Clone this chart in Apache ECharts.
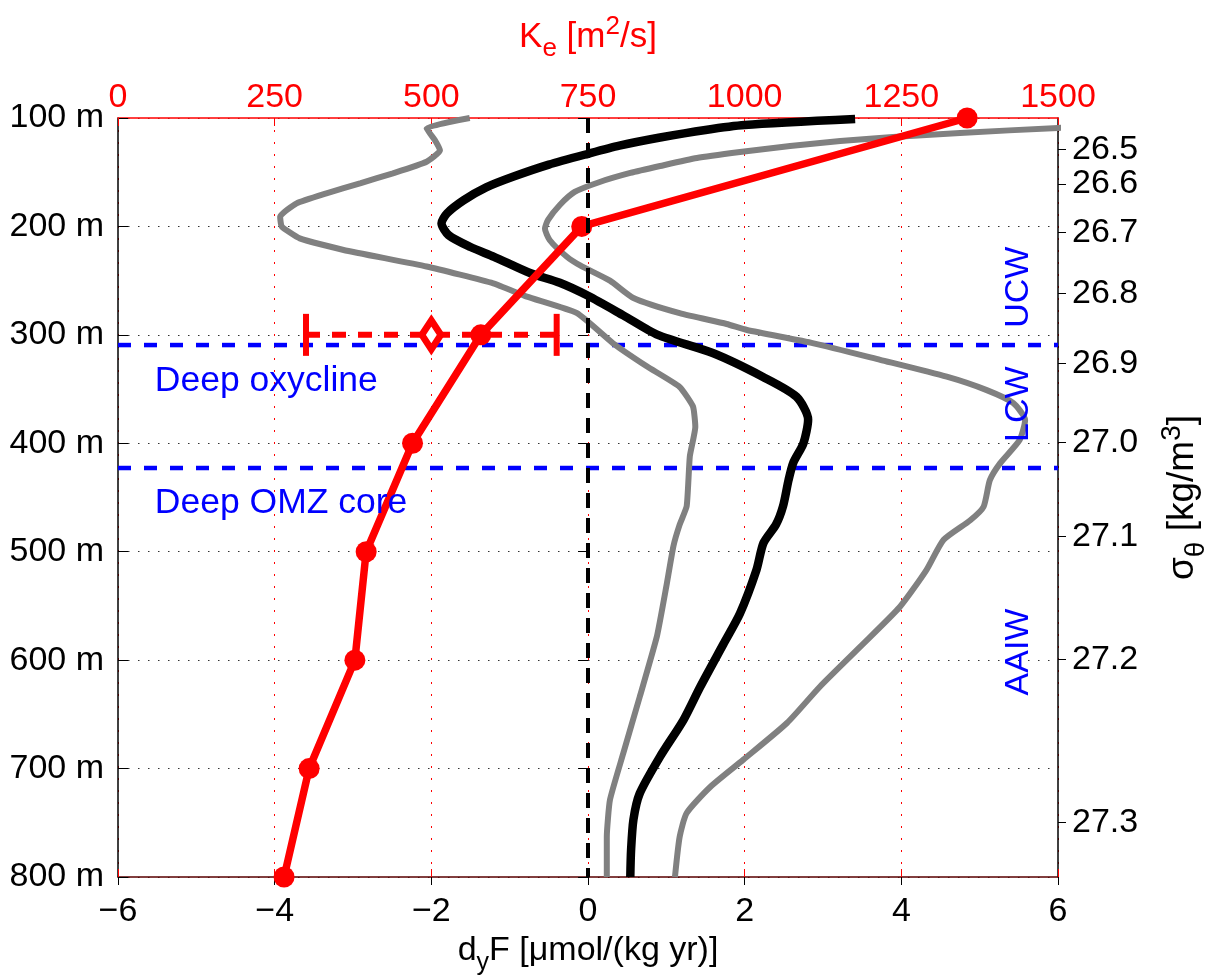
<!DOCTYPE html>
<html>
<head>
<meta charset="utf-8">
<script src="https://cdn.jsdelivr.net/npm/echarts@6/dist/echarts.min.js"></script>
<style>html,body{margin:0;padding:0;background:#fff;overflow:hidden}#c{width:1207px;height:978px}</style>
</head>
<body>
<div id="c"></div>
<script>
// ---------- data ----------
const depthTicks = [100, 200, 300, 400, 500, 600, 700, 800];
const fluxTicks = [-6, -4, -2, 0, 2, 4, 6];
const keTicks = [0, 250, 500, 750, 1000, 1250, 1500];

// K_e profile (top axis) at depths
const keDepths = [100, 200, 300, 400, 500, 600, 700, 800];
const keValues = [1355, 740, 579, 470, 396, 378, 305, 265];

// K_e error bar at 300 m
const keErrDepth = 300;
const keErrLow = 300;
const keErrMid = 500;
const keErrHigh = 700;

// d_yF mean profile [flux, depth]
const meanFlux = [[3.41,101],[2.0,106.5],[1.5,111],[0.92,118],[0.4,125.5],[0,133],[-0.5,143],[-0.95,154],[-1.3,164],[-1.59,176],[-1.8,188],[-1.87,197],[-1.78,208],[-1.5,219],[-1.2,228],[-0.74,243],[-0.36,252],[0,264],[0.45,282],[0.89,300],[1.6,317],[2.24,339],[2.66,357],[2.81,378],[2.75,400],[2.62,418],[2.56,434],[2.49,458],[2.4,475],[2.24,492],[2.15,517],[1.94,557],[1.73,585],[1.43,625],[1.22,655],[0.92,689],[0.66,723],[0.58,747],[0.55,775],[0.54,800]];

// lower bound profile
const lowFlux = [[-1.51,100],[-2.06,109.5],[-1.95,121],[-1.89,130],[-2.06,140.3],[-2.49,151],[-2.9,160],[-3.34,169.5],[-3.72,178.7],[-3.93,191],[-3.91,200],[-3.68,211],[-3.12,221.7],[-2.06,237],[-1.21,252.5],[-0.78,264.8],[-0.14,280],[0.32,307.8],[0.75,329],[1.17,348],[1.34,366],[1.37,385],[1.3,412],[1.26,458],[1.17,475],[1.09,495],[1.0,532],[0.88,578],[0.66,634],[0.45,686],[0.28,729],[0.24,763],[0.24,800]];

// upper bound profile
const highFlux = [[6.5,108.5],[6.0,109.2],[4.75,113.8],[3.89,117.5],[3.22,121.2],[2.58,125.8],[1.94,131.4],[1.39,136.9],[0.92,144.3],[0.54,150.7],[0.15,159],[-0.17,168.2],[-0.36,180.2],[-0.51,194],[-0.55,202],[-0.49,212.5],[-0.27,228],[-0.1,236],[0.28,250],[0.58,266],[1.17,280],[1.77,290],[2.03,295.5],[2.88,307.8],[3.73,323],[4.58,338.6],[5.09,351],[5.43,363],[5.58,378.5],[5.51,397],[5.26,418.5],[5.13,434],[5.05,458.5],[4.88,471],[4.54,489],[4.32,517],[3.98,551],[3.47,588],[2.96,624.5],[2.54,658],[1.98,692],[1.56,717],[1.26,741],[1.17,763],[1.11,800]];

// sigma-theta ticks (right axis) and their depths
const sigmaLabels = ['26.5','26.6','26.7','26.8','26.9','27.0','27.1','27.2','27.3'];
const sigmaDepths = [128.9, 160.9, 205.8, 261.7, 326.2, 399.1, 486.1, 599.2, 749.9];

// layer boundaries (blue dashed)
const layerDepths = [309.4, 422.8];
const layerNames = ['Deep oxycline', 'Deep OMZ core'];
const layerLabelDepths = [342.6, 455];
const waterMasses = ['UCW', 'LCW', 'AAIW'];
const waterMassDepths = [256, 364, 592.5];

// ---------- chart ----------
const FONT = "'Liberation Sans', Arial, Helvetica, sans-serif";
const FS = 34;
const chart = echarts.init(document.getElementById('c'), null, {renderer: 'canvas'});

const minus = v => v < 0 ? '\u2212' + Math.abs(v) : String(v);

const series = [];
layerDepths.forEach(d => {
  series.push({type: 'line', xAxisIndex: 0, yAxisIndex: 0, data: [[-6, d], [6, d]],
    showSymbol: false, symbol: 'none', silent: true,
    lineStyle: {color: '#0000ff', width: 4.5, type: [13, 13]}, z: 2});
});
series.push({type: 'line', xAxisIndex: 0, yAxisIndex: 0, data: lowFlux, symbol: 'none', smooth: 0.15,
  lineStyle: {color: '#808080', width: 6}, z: 3});
series.push({type: 'line', xAxisIndex: 0, yAxisIndex: 0, data: highFlux, symbol: 'none', smooth: 0.2,
  lineStyle: {color: '#808080', width: 6}, z: 3});
series.push({type: 'line', xAxisIndex: 0, yAxisIndex: 0, data: meanFlux, symbol: 'none', smooth: 0.25,
  lineStyle: {color: '#000000', width: 8.5}, z: 4});
series.push({type: 'line', xAxisIndex: 1, yAxisIndex: 0,
  data: keDepths.map((d, i) => [keValues[i], d]),
  symbol: 'circle', symbolSize: 21, showSymbol: true,
  itemStyle: {color: '#ff0000', opacity: 1}, lineStyle: {color: '#ff0000', width: 7.5}, z: 5});
// error bar
series.push({type: 'line', xAxisIndex: 1, yAxisIndex: 0,
  data: [[keErrLow, keErrDepth], [keErrHigh, keErrDepth]], symbol: 'none',
  lineStyle: {color: '#ff0000', width: 6, type: [14, 12]}, z: 5});
series.push({type: 'scatter', xAxisIndex: 1, yAxisIndex: 0,
  data: [[keErrLow, keErrDepth], [keErrHigh, keErrDepth]],
  symbol: 'rect', symbolSize: [6, 42], itemStyle: {color: '#ff0000', opacity: 1}, z: 6});
series.push({type: 'scatter', xAxisIndex: 1, yAxisIndex: 0,
  data: [[keErrMid, keErrDepth]],
  symbol: 'diamond', symbolSize: [19, 29],
  itemStyle: {color: '#ffffff', borderColor: '#ff0000', borderWidth: 7, opacity: 1}, z: 6});
// zero line
series.push({type: 'line', xAxisIndex: 0, yAxisIndex: 0, data: [[0, 100], [0, 800]],
  symbol: 'none', lineStyle: {color: '#000', width: 4, type: [15, 10]}, z: 7});
// text annotations
series.push({type: 'scatter', xAxisIndex: 0, yAxisIndex: 0, symbolSize: 0, z: 8,
  itemStyle: {opacity: 1},
  data: layerNames.map((n, i) => ({value: [-5.53, layerLabelDepths[i]], name: n})),
  label: {show: true, position: 'right', distance: 0, formatter: p => p.name, opacity: 1,
    color: '#0000ff', fontSize: 35.5, fontFamily: FONT}});
series.push({type: 'scatter', xAxisIndex: 0, yAxisIndex: 0, symbolSize: 0, z: 8,
  itemStyle: {opacity: 1},
  data: waterMasses.map((n, i) => ({value: [5.5, waterMassDepths[i]], name: n})),
  label: {show: true, position: 'inside', rotate: 90, formatter: p => p.name, opacity: 1,
    color: '#0000ff', fontSize: FS, fontFamily: FONT}});

function rich(color, fs, sfs, pad) {
  return {
    n: {color: color, fontSize: fs, fontFamily: FONT},
    s: {color: color, fontSize: sfs, fontFamily: FONT, padding: [pad + 4, 0, 0, 0]},
    p: {color: color, fontSize: sfs, fontFamily: FONT, padding: [0, 0, pad, 0]}
  };
}

chart.setOption({
  animation: false,
  backgroundColor: '#ffffff',
  textStyle: {fontFamily: FONT},
  grid: {left: 118, right: 149, top: 118, bottom: 101, containLabel: false, outerBoundsMode: 'none'},
  xAxis: [
    {type: 'value', position: 'bottom', min: -6, max: 6, interval: 2,
     axisLine: {show: true, onZero: false, lineStyle: {color: '#5a0000', width: 1.5}},
     axisTick: {show: true, inside: false, length: 8, lineStyle: {color: '#000', width: 1}},
     axisLabel: {fontSize: FS, color: '#000', margin: 18, fontFamily: FONT, formatter: minus},
     splitLine: {show: false},
     name: '{n|d}{s|y}{n|F [μmol/(kg yr)]}', nameLocation: 'middle', nameGap: 42,
     nameTextStyle: {color: '#000', fontSize: FS, rich: rich('#000', FS, 25, 20)}},
    {type: 'value', position: 'top', min: 0, max: 1500, interval: 250,
     axisLine: {show: true, onZero: false, lineStyle: {color: '#ff0000', width: 1.5}},
     axisTick: {show: true, inside: true, length: 8, lineStyle: {color: '#ff0000', width: 1}},
     axisLabel: {fontSize: FS, color: '#ff0000', margin: 3, fontFamily: FONT, formatter: v => String(v)},
     splitLine: {show: true, lineStyle: {color: '#ff0000', width: 1, type: [2, 10]}},
     name: '{n|K}{s|e}{n| [m}{p|2}{n|/s]}', nameLocation: 'middle', nameGap: 56,
     nameTextStyle: {color: '#ff0000', fontSize: 35, rich: rich('#ff0000', 35, 26, 20)}},
    {type: 'value', position: 'bottom', min: 0, max: 1500, interval: 250,
     axisLine: {show: false}, axisLabel: {show: false}, splitLine: {show: false},
     axisTick: {show: true, inside: true, length: 8, lineStyle: {color: '#ff0000', width: 1}}}
  ],
  yAxis: [
    {type: 'value', position: 'left', min: 100, max: 800, interval: 100, inverse: true,
     axisLine: {show: true, onZero: false, lineStyle: {color: '#000', width: 1.5}},
     axisTick: {show: true, inside: true, length: 10, lineStyle: {color: '#000'}},
     axisLabel: {fontSize: FS, color: '#000', margin: 14, fontFamily: FONT, formatter: '{value} m'},
     splitLine: {show: true, lineStyle: {color: '#333', width: 1, type: [1.5, 8.5]}}},
    {type: 'value', position: 'right', min: 100, max: 800, inverse: true,
     axisLine: {show: true, onZero: false, lineStyle: {color: '#000', width: 1.5}},
     axisTick: {show: true, inside: false, length: 8, customValues: sigmaDepths, lineStyle: {color: '#000'}},
     axisLabel: {fontSize: FS, color: '#000', margin: 14, fontFamily: FONT, customValues: sigmaDepths,
       formatter: v => { let best = 0; sigmaDepths.forEach((d, i) => { if (Math.abs(d - v) < Math.abs(sigmaDepths[best] - v)) best = i; }); return sigmaLabels[best]; }},
     splitLine: {show: false},
     name: '{n|σ}{s|θ}{n| [kg/m}{p|3}{n|]}', nameLocation: 'middle', nameRotate: 90, nameGap: 98,
     nameTextStyle: {color: '#000', fontSize: 37, rich: rich('#000', 37, 28, 22)}},
    {type: 'value', position: 'right', min: 100, max: 800, interval: 100, inverse: true,
     axisLine: {show: false}, axisLabel: {show: false}, splitLine: {show: false},
     axisTick: {show: true, inside: true, length: 10, lineStyle: {color: '#000'}}}
  ],
  series: series
});
</script>
</body>
</html>
